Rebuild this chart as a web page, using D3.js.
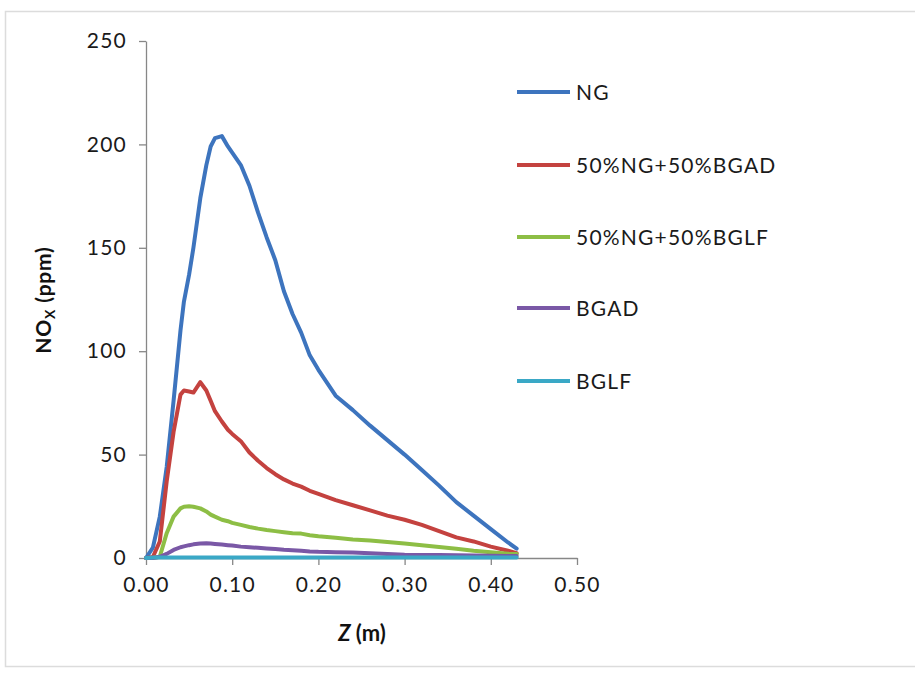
<!DOCTYPE html>
<html><head><meta charset="utf-8">
<script src="https://cdn.jsdelivr.net/npm/d3@7"></script>
<style>
body{margin:0;background:#fff;}
svg{display:block;}
</style></head>
<body>
<svg id="chart" width="915" height="677"></svg>
<script>
const zValues = [0, 0.008, 0.016, 0.024, 0.032, 0.04, 0.044, 0.05, 0.055, 0.063, 0.07, 0.075, 0.08, 0.088, 0.095, 0.1, 0.11, 0.12, 0.13, 0.14, 0.15, 0.16, 0.17, 0.18, 0.19, 0.2, 0.22, 0.24, 0.26, 0.28, 0.3, 0.32, 0.34, 0.36, 0.38, 0.4, 0.42, 0.43];
const seriesNames = ["NG", "50%NG+50%BGAD", "50%NG+50%BGLF", "BGAD", "BGLF"];
const ngValues = [0, 5, 20, 44, 76, 110, 124, 137, 150, 174, 190, 199, 203, 204, 199, 196, 190, 180, 167, 155, 144, 129, 118, 109, 98, 91, 78.5, 71.5, 64, 57, 50, 42.5, 35, 27, 20.5, 14, 7.5, 4.5];
const ngBgadValues = [0, 0.5, 8, 37, 61, 79, 81, 80.5, 80, 85, 81, 76, 71, 66, 62, 60, 56.5, 51, 47, 43.5, 40.5, 38, 36, 34.5, 32.5, 31, 28, 25.5, 23, 20.5, 18.5, 16, 13, 10, 8, 5.5, 3.5, 2.3];
const ngBglfValues = [0, 0, 0.6, 12, 20, 24, 24.8, 25, 24.8, 24, 22.5, 21, 20, 18.5, 17.8, 17, 16, 15, 14.2, 13.5, 13, 12.5, 12, 11.8, 11, 10.5, 9.8, 9, 8.5, 7.7, 7, 6.2, 5.3, 4.5, 3.5, 2.8, 2.1, 1.9];
const bgadValues = [0, 0, 0.6, 2, 3.9, 5.2, 5.6, 6.2, 6.6, 7, 7.1, 7, 6.8, 6.5, 6.2, 6, 5.5, 5.2, 4.9, 4.6, 4.3, 4, 3.8, 3.5, 3.2, 3, 2.8, 2.6, 2.3, 1.9, 1.6, 1.5, 1.4, 1.3, 1.2, 1.1, 1, 1];
const bglfValues = [0, 0.2, 0.2, 0.2, 0.3, 0.3, 0.3, 0.3, 0.3, 0.3, 0.3, 0.3, 0.3, 0.3, 0.3, 0.3, 0.3, 0.3, 0.3, 0.3, 0.3, 0.3, 0.3, 0.3, 0.3, 0.3, 0.3, 0.3, 0.3, 0.3, 0.3, 0.3, 0.3, 0.3, 0.3, 0.3, 0.3, 0.3];
const xTicks = [0, 0.1, 0.2, 0.3, 0.4, 0.5];
const yTicks = [0, 50, 100, 150, 200, 250];
const colors = ["#3D74BE", "#C4423F", "#8DBE45", "#7A58A6", "#3AA8C6"];

const allSeries = [ngValues, ngBgadValues, ngBglfValues, bgadValues, bglfValues];

const svg = d3.select("#chart");
svg.append("rect").attr("x", 5.5).attr("y", 11.5).attr("width", 930).attr("height", 655)
  .attr("fill", "#fff").attr("stroke", "#dcdcdc").attr("stroke-width", 1.5);

const x = d3.scaleLinear().domain([0, 0.5]).range([146, 577]);
const y = d3.scaleLinear().domain([0, 250]).range([558, 41]);

const fontFam = "Lato, 'Open Sans', sans-serif";

const xAxis = svg.append("g").attr("transform", "translate(0,558)")
  .call(d3.axisBottom(x).tickValues(xTicks).tickFormat(d3.format(".2f")).tickSize(7).tickSizeOuter(0).tickPadding(12));
const yAxis = svg.append("g").attr("transform", "translate(146,0)")
  .call(d3.axisLeft(y).tickValues(yTicks).tickSize(7).tickSizeOuter(0).tickPadding(12));
[xAxis, yAxis].forEach(g => {
  g.select(".domain").attr("stroke", "#878787").attr("stroke-width", 1.3);
  g.selectAll(".tick line").attr("stroke", "#878787").attr("stroke-width", 1.3);
  g.selectAll(".tick text").attr("font-family", fontFam).attr("font-size", 21)
    .attr("letter-spacing", "1.2px").attr("fill", "#1a1a1a");
});

const line = d3.line().x((d, i) => x(zValues[i])).y(d => y(d)).curve(d3.curveLinear);

allSeries.forEach((s, k) => {
  svg.append("path").datum(s).attr("d", line).attr("fill", "none")
    .attr("stroke", colors[k]).attr("stroke-width", 4).attr("stroke-linejoin", "round").attr("stroke-linecap", "round");
});

const legendY = [92, 165, 237, 308, 381];
seriesNames.forEach((n, k) => {
  svg.append("line").attr("x1", 517).attr("x2", 570).attr("y1", legendY[k]).attr("y2", legendY[k])
    .attr("stroke", colors[k]).attr("stroke-width", 4);
  svg.append("text").attr("x", 576).attr("y", legendY[k] + 7.5).text(n)
    .attr("font-family", fontFam).attr("font-size", 21).attr("letter-spacing", "1.2px").attr("fill", "#1a1a1a");
});

const xt = svg.append("text").attr("x", 362).attr("y", 641).attr("text-anchor", "middle")
  .attr("font-family", fontFam).attr("font-size", 22).attr("fill", "#111");
xt.append("tspan").attr("font-weight", "bold").attr("font-style", "italic").text("Z");
xt.append("tspan").text(" (m)").attr("font-weight", "bold");

const yt = svg.append("text").attr("transform", "translate(51,300) rotate(-90)").attr("text-anchor", "middle")
  .attr("font-family", fontFam).attr("font-size", 21).attr("font-weight", "bold").attr("fill", "#111")
  .attr("letter-spacing", "0.8px");
yt.append("tspan").text("NO");
yt.append("tspan").text("X").attr("font-size", 14).attr("dy", 4);
yt.append("tspan").text(" (ppm)").attr("dy", -4);
</script>
</body></html>
